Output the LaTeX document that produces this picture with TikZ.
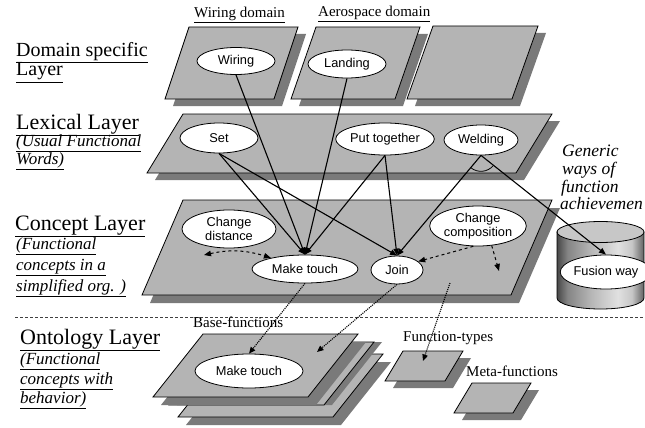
\documentclass[tikz,border=0pt]{standalone}
\usepackage{fontspec}
\setmainfont{Liberation Serif}
\newfontfamily\sansf{Liberation Sans}
\usetikzlibrary{shapes.geometric,arrows.meta,calc}
\definecolor{sheetc}{RGB}{180,180,180}
\definecolor{shadc}{RGB}{122,122,122}
\pgfdeclarehorizontalshading{cylsh}{100bp}{color(0bp)=(black!72); color(25bp)=(black!72); color(31bp)=(black!48); color(45bp)=(black!28); color(60bp)=(black!12); color(68bp)=(black!22); color(75bp)=(black!62); color(100bp)=(black!62)}
% TLx, TLy, width, height, slant, shadow dx, shadow dy
\newcommand{\psheet}[7]{%
  \fill[shadc] (#1+#6,#2+#7) -- ++(#3,0) -- ++(-#5,#4) -- ++(-#3,0) -- cycle;
  \draw[sheetst] (#1,#2) -- ++(#3,0) -- ++(-#5,#4) -- ++(-#3,0) -- cycle;}
\begin{document}
\begin{tikzpicture}[x=1pt,y=-1pt,
  sheetst/.style={fill=sheetc, draw=black, line width=0.8pt},
  ell/.style={ellipse, draw=black, fill=white, line width=0.8pt, inner sep=0pt,
    font=\sansf\fontsize{12.8}{14}\selectfont, align=center},
  biglab/.style={anchor=base west, inner sep=0pt, font=\fontsize{22}{24}\selectfont},
  itlab/.style={anchor=base west, inner sep=0pt, font=\itshape\fontsize{17}{19}\selectfont},
  smlab/.style={anchor=base west, inner sep=0pt, font=\fontsize{15}{17}\selectfont},
  tip/.tip={Triangle[length=7pt,width=5.5pt]},
  conn/.style={line width=1.1pt, -tip},
  dconn/.style={dashed, line width=1pt, -tip},
  pconn/.style={densely dotted, line width=1.1pt, -{Triangle[length=6.5pt,width=5.5pt]}}]
\useasboundingbox (0,0) rectangle (645,428);

% ---------- sheets ----------
\psheet{189}{27}{109}{72}{24}{8}{7}
\psheet{316}{27}{104}{72}{25}{8}{7}
\psheet{433}{26}{105}{73}{26}{8}{7}
\psheet{183}{114}{369}{59}{36}{8}{7}
\psheet{183}{200}{369}{95}{41}{8}{8}
% ontology stack
\psheet{228}{354}{155}{63}{50}{8}{8}
\psheet{219}{342}{155}{63}{50}{8}{0}
\psheet{203}{334}{155}{63}{50}{8}{8}
\psheet{403}{351}{60}{30}{18}{8}{7}
\psheet{472}{383}{59}{30}{18}{8}{7}

% ---------- separator ----------
\draw[densely dashed, black!75, line width=0.6pt] (15,317) -- (645,317);

% ---------- cylinder ----------
\shade[shading=cylsh, draw=black, line width=0.8pt] (557,232) -- (557,298)
  arc[start angle=180, end angle=0, x radius=43.5, y radius=11] -- (644,232) -- cycle;
\draw[fill=black!22, line width=0.8pt] (600.5,232) ellipse[x radius=43.5, y radius=10.5];

% ---------- ellipses ----------
\node[ell, minimum width=78pt, minimum height=27pt] (wir) at (236,61) {Wiring};
\node[ell, minimum width=78pt, minimum height=28pt] (lan) at (347,64) {Landing};
\node[ell, minimum width=78pt, minimum height=30pt] (set) at (219,138) {Set};
\node[ell, minimum width=95pt, minimum height=32pt] (put) at (385,139) {Put together};
\node[ell, minimum width=74pt, minimum height=30pt] (wel) at (481,140) {Welding};
\node[ell, minimum width=94pt, minimum height=38pt] (cd) at (229,229) {Change\\distance};
\node[ell, minimum width=106pt, minimum height=28pt] (mt) at (305,269) {Make touch};
\node[ell, minimum width=52pt, minimum height=28pt] (jn) at (397,270) {Join};
\node[ell, minimum width=92pt, minimum height=40pt] (cc) at (478,226) {Change\\composition};
\node[ell, minimum width=76pt, minimum height=34pt] (fw) at (606,272) {Fusion way};
\node[ell, minimum width=108pt, minimum height=34pt] (omt) at (249,371) {Make touch};

% ---------- labels ----------
\node[biglab, font=\fontsize{20}{22}\selectfont] at (16,57) {\underline{Domain specific}};
\node[biglab, font=\fontsize{20}{22}\selectfont] at (16,76) {\underline{Layer}};
\node[biglab] at (16,129) {\underline{Lexical Layer}};
\node[itlab] at (16,146) {\underline{(Usual Functional}};
\node[itlab] at (16,164) {\underline{Words)}};
\node[biglab] at (15,230) {\underline{Concept Layer}};
\node[itlab] at (16,249) {\underline{(Functional}};
\node[itlab] at (16,270) {\underline{concepts in a}};
\node[itlab] at (16,291) {\underline{simplified org. )}};
\node[biglab] at (20,344) {\underline{Ontology Layer}};
\node[itlab] at (20,364) {\underline{(Functional}};
\node[itlab] at (20,384) {\underline{concepts with}};
\node[itlab] at (20,403) {\underline{behavior)}};

\node[smlab] at (194,18) {\underline{Wiring domain}};
\node[smlab] at (318,17) {\underline{Aerospace domain}};
\node[smlab] at (193,327) {Base-functions};
\node[smlab] at (403,341) {Function-types};
\node[smlab] at (466,376) {Meta-functions};

\node[itlab, font=\itshape\fontsize{17.5}{19}\selectfont] at (562,156) {Generic};
\node[itlab, font=\itshape\fontsize{17.5}{19}\selectfont] at (562,174) {ways of};
\node[itlab, font=\itshape\fontsize{17.5}{19}\selectfont] at (561,192) {function};
\node[itlab, font=\itshape\fontsize{17.5}{19}\selectfont] at (560,209) {achievemen};

% ---------- coordinates ----------
\coordinate (cdl) at (204,255);
\coordinate (ccd) at (499,271);
\coordinate (csp) at (450,283);
\coordinate (ost) at (317,352);
\coordinate (ftp) at (423,361);

% ---------- solid connectors ----------
\draw[conn] (wir.south) -- (mt.north);
\draw[conn] (lan.south) -- (mt.north);
\draw[conn] (set.south) -- (mt.north);
\draw[conn] (put.south) -- (mt.north);
\draw[conn] (set.south) -- (jn.north);
\draw[conn] (put.south) -- (jn.north);
\draw[conn] (wel.south) -- (jn.north);
\draw[conn] (wel.south) -- (fw.north);
\draw[line width=0.8pt] ($(wel.south)!16pt!(jn.north)$) to[bend right=45] ($(wel.south)!16pt!(fw.north)$);

% ---------- dashed connectors ----------
\draw[dashed, line width=1pt, tip-tip] (cdl) to[bend left=15] (mt.162);
\draw[dconn] (cc.257) -- (jn.22);
\draw[dconn] (cc.305) -- (ccd);

% ---------- dotted connectors ----------
\draw[pconn] (mt.south) -- (omt.north);
\draw[pconn] (jn.south) -- (ost);
\draw[pconn] (csp) -- (ftp);
\end{tikzpicture}
\end{document}
